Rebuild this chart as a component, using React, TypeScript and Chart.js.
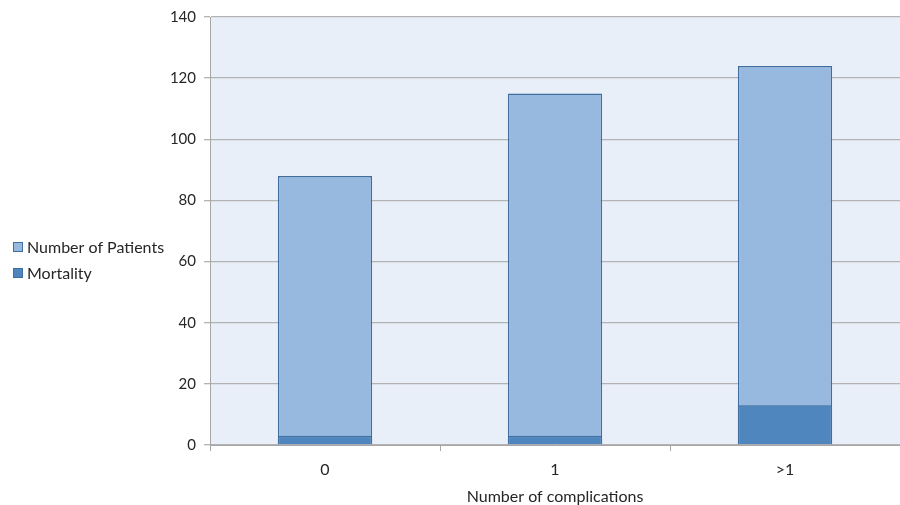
import React, { useEffect, useRef } from "react";
import { Chart, registerables } from "chart.js";

Chart.register(...registerables);

const categories = ["0", "1", ">1"];
const patients = [88, 115, 124];
const mortality = [3, 3, 13];
const yTicks = [0, 20, 40, 60, 80, 100, 120, 140];

const FONT = "Lato, 'Open Sans', sans-serif";

// Plot background and a side legend drawn beside the axes
const plotBg = {
  id: "plotBg",
  beforeDraw(chart: any) {
    const { ctx, chartArea } = chart;
    ctx.save();
    ctx.fillStyle = "#E9EFF8";
    ctx.fillRect(chartArea.left, chartArea.top, chartArea.right - chartArea.left, chartArea.bottom - chartArea.top);
    ctx.restore();
  },
};

const sideLegend = {
  id: "sideLegend",
  afterDraw(chart: any) {
    const { ctx } = chart;
    const items = chart.data.datasets;
    ctx.save();
    ctx.font = `16px ${FONT}`;
    ctx.textBaseline = "middle";
    items.forEach((ds: any, i: number) => {
      const y = 247 + i * 26;
      ctx.fillStyle = ds.backgroundColor;
      ctx.fillRect(13, y - 5, 10, 10);
      ctx.strokeStyle = ds.borderColor;
      ctx.lineWidth = 1;
      ctx.strokeRect(13.5, y - 4.5, 9, 9);
      ctx.fillStyle = "#262626";
      ctx.fillText(ds.label, 27, y + 1);
    });
    ctx.restore();
  },
};

export default function App() {
  const ref = useRef<HTMLCanvasElement>(null);

  useEffect(() => {
    if (!ref.current) return;
    const chart = new Chart(ref.current, {
      type: "bar",
      data: {
        labels: categories,
        datasets: [
          {
            label: "Number of Patients",
            data: patients,
            backgroundColor: "#97B9E0",
            borderColor: "#3F6E9F",
            borderWidth: 1.5,
            order: 2,
          },
          {
            label: "Mortality",
            data: mortality,
            backgroundColor: "#4F86BE",
            borderColor: "#3F6E9F",
            borderWidth: 1.5,
            order: 1,
          },
        ],
      },
      options: {
        animation: false,
        responsive: false,
        layout: { padding: { left: 150, top: 16, right: 0, bottom: 0 } },
        datasets: { bar: { grouped: false, barPercentage: 0.41, categoryPercentage: 1 } },
        plugins: { legend: { display: false }, tooltip: { enabled: false } },
        scales: {
          x: {
            grid: { offset: true, drawOnChartArea: false, drawTicks: true, tickLength: 6, color: "#A6A6A6" },
            border: { color: "#A6A6A6", width: 1 },
            ticks: { color: "#262626", font: { family: FONT, size: 16, lineHeight: 1 }, padding: 11 },
            title: { display: true, text: "Number of complications", color: "#262626", font: { family: FONT, size: 16, lineHeight: 1 }, padding: { top: 0, bottom: 0 } },
          },
          y: {
            min: 0,
            max: 140,
            afterFit(scale: any) { scale.width = 60; },
            afterBuildTicks(scale: any) { scale.ticks = yTicks.map((v) => ({ value: v })); },
            grid: { color: "#B3B3B3", lineWidth: 1.3, tickLength: 6 },
            border: { color: "#A6A6A6", width: 1 },
            ticks: { color: "#262626", font: { family: FONT, size: 15 }, padding: 8 },
          },
        },
      },
      plugins: [plotBg, sideLegend],
    });
    return () => chart.destroy();
  }, []);

  return (
    <div style={{ position: "fixed", left: 0, top: 0, width: 900, height: 505, background: "#fff" }}>
      <canvas ref={ref} width={900} height={505} style={{ display: "block" }} />
    </div>
  );
}
